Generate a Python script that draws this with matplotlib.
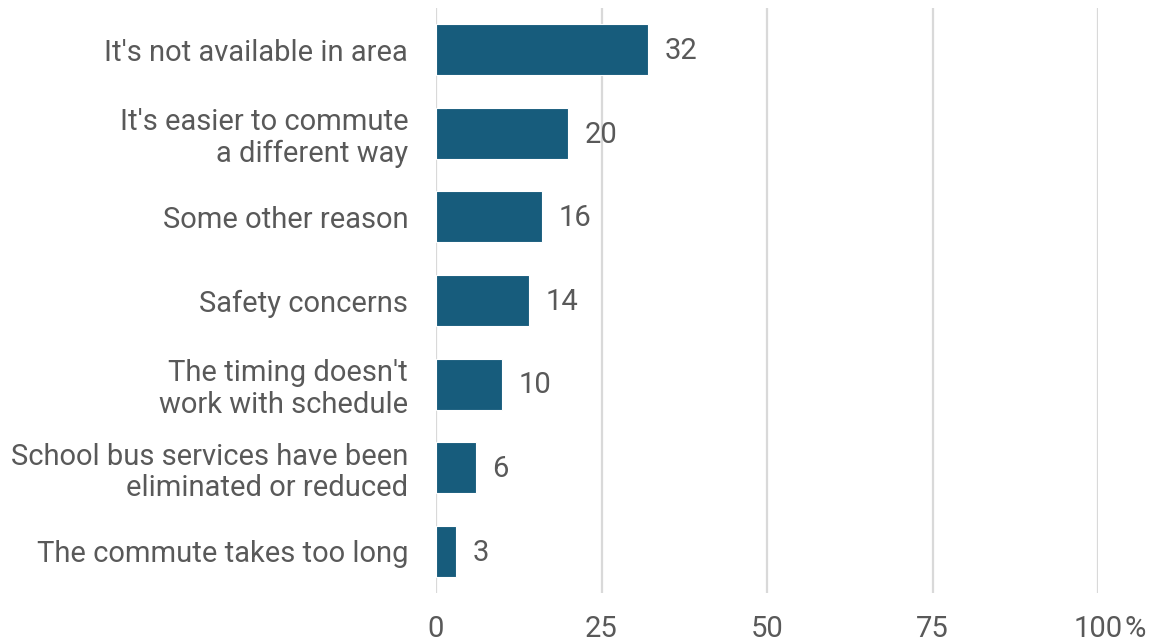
import matplotlib
matplotlib.use("Agg")
import matplotlib.pyplot as plt
import matplotlib.transforms as mtransforms

# Data (top to bottom as shown)
reasons = [
    "It's not available in area",
    "It's easier to commute\na different way",
    "Some other reason",
    "Safety concerns",
    "The timing doesn't\nwork with schedule",
    "School bus services have been\neliminated or reduced",
    "The commute takes too long",
]
values = [32, 20, 16, 14, 10, 6, 3]
xticks = [0, 25, 50, 75, 100]
xtick_labels = ["0", "25", "50", "75", "100"]

BAR_COLOR = '#175c7c'
TEXT_COLOR = '#595959'
GRID_COLOR = '#d9d9d9'
FS = 21

plt.rcParams['font.family'] = ['Roboto', 'DejaVu Sans']

fig = plt.figure(figsize=(11.5, 6.42), dpi=100)
ax = fig.add_axes([436 / 1150, 1 - 593 / 642, (1098 - 436) / 1150, (593 - 8) / 642])

ypos = list(range(len(reasons)))
ax.barh(ypos, values, height=0.61, color=BAR_COLOR,
        edgecolor='white', linewidth=0.8, zorder=3)

# value labels
for y, v in zip(ypos, values):
    ax.annotate(str(v), xy=(v, y), xytext=(12, -1), textcoords='offset points',
                va='center', ha='left', fontsize=FS, color=TEXT_COLOR)

ax.set_xlim(0, 100)
ax.set_ylim(len(reasons) - 0.5, -0.5)
ax.set_yticks(ypos)
ax.set_yticklabels(reasons, fontsize=FS, color=TEXT_COLOR, linespacing=1.17)
ax.set_xticks(xticks)
ax.set_xticklabels(xtick_labels, fontsize=FS, color=TEXT_COLOR)
ax.tick_params(axis='both', length=0)
ax.tick_params(axis='y', pad=20)
xpad = 16
ax.tick_params(axis='x', pad=xpad)

ax.grid(axis='x', color=GRID_COLOR, linewidth=1.6, zorder=0)
for sp in ax.spines.values():
    sp.set_visible(False)

# percent sign after the last tick label
trans, _, _ = ax.get_xaxis_text1_transform(xpad)
offset = mtransforms.ScaledTranslation(26 / 100, 0, fig.dpi_scale_trans)
ax.text(100, 0, "%", transform=trans + offset,
        ha='left', va='top', fontsize=FS, color=TEXT_COLOR)

fig.savefig("out.png", dpi=100)
